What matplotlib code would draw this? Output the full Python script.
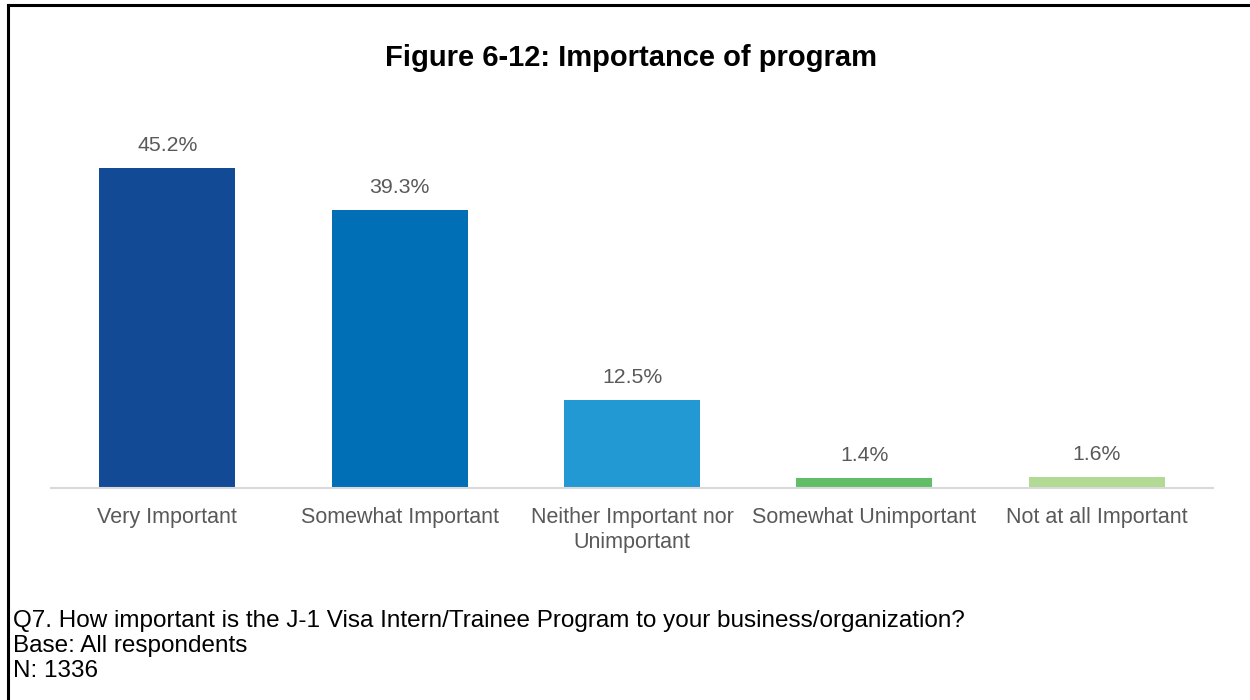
import matplotlib
matplotlib.use('Agg')
import matplotlib.pyplot as plt
from matplotlib.lines import Line2D

plt.rcParams['font.family'] = ['Liberation Sans', 'DejaVu Sans']

categories = ['Very Important', 'Somewhat Important', 'Neither Important nor\nUnimportant',
              'Somewhat Unimportant', 'Not at all Important']
values = [45.2, 39.3, 12.5, 1.4, 1.6]
colors = ['#134A96', '#006FB5', '#2299D3', '#62BD68', '#B3DA95']

fig = plt.figure(figsize=(12.5, 7), dpi=100)
ax = fig.add_axes([51/1250, 1 - 488/700, (1213 - 51)/1250, (488 - 134)/700])

x = range(len(categories))
bars = ax.bar(x, values, width=0.585, color=colors, zorder=2)
for xi, v in zip(x, values):
    ax.text(xi, v + 1.8, f'{v}%', ha='center', va='bottom', fontsize=15.3, color='#595959')

ax.set_xlim(-0.5, len(categories) - 0.5)
ax.set_ylim(0, 50)
ax.set_yticks([])
ax.set_xticks(list(x))
ax.set_xticklabels(categories, fontsize=15.5, color='#595959', linespacing=1.22)
ax.tick_params(axis='x', length=0, pad=14)
for s in ['top', 'right', 'left']:
    ax.spines[s].set_visible(False)
ax.spines['bottom'].set_color('#D9D9D9')
ax.spines['bottom'].set_linewidth(1.5)

fig.text(631/1250, 1 - 58/700, 'Figure 6-12: Importance of program', ha='center', va='center',
         fontsize=21, fontweight='bold', color='black')

notes = ['Q7. How important is the J-1 Visa Intern/Trainee Program to your business/organization?',
         'Base: All respondents',
         'N: 1336']
for i, t in enumerate(notes):
    fig.text(13/1250, 1 - (621 + 25 * i)/700, t, ha='left', va='center', fontsize=17.5, color='black')

# frame lines (left and top)
fig.add_artist(Line2D([7.5/1250, 7.5/1250], [0, 1 - 4.5/700], color='black', lw=2.2, transform=fig.transFigure))
fig.add_artist(Line2D([7.5/1250, 1], [1 - 4.5/700, 1 - 4.5/700], color='black', lw=2.2, transform=fig.transFigure))

fig.savefig('out.png', dpi=100)
